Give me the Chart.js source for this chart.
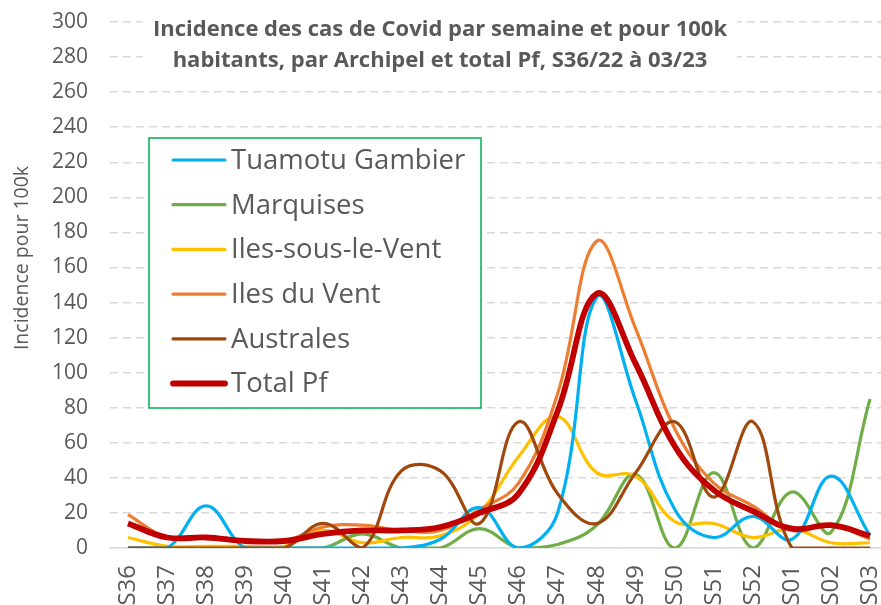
<!DOCTYPE html>
<html>
<head>
<meta charset="utf-8">
<script src="https://cdn.jsdelivr.net/npm/chart.js@4.4.1/dist/chart.umd.min.js"></script>
<style>
  html, body { margin: 0; padding: 0; background: #fff; }
  #wrap { width: 881px; height: 605px; }
</style>
</head>
<body>
<div id="wrap"><canvas id="covidChart" width="881" height="605"></canvas></div>
<script>
// Semaines S36/22 -> S03/23
const weeks = ["S36", "S37", "S38", "S39", "S40", "S41", "S42", "S43", "S44", "S45",
  "S46", "S47", "S48", "S49", "S50", "S51", "S52", "S01", "S02", "S03"];

// Incidence pour 100k
const tuamotu   = [0, 0, 24, 0, 0, 0, 0, 0, 5, 23, 0, 20, 143, 84, 22, 6, 18, 5, 41, 7];
const marquises = [0, 0, 0, 0, 0, 0, 8, 0, 0, 11, 0, 2, 13, 42, 0, 43, 0, 32, 9, 85];
const ilesSLV   = [6, 1, 1, 1, 1, 10, 3, 6, 7, 20, 52, 75, 43, 41, 15, 14, 6, 11, 3, 3];
const ilesDV    = [19, 6, 6, 4, 4, 12, 13, 10, 10, 22, 37, 88, 175, 125, 68, 37, 24, 10, 13, 5];
const australes = [0, 0, 0, 0, 0, 14, 0, 44, 44, 14, 72, 31, 14, 43, 72, 29, 72, 0, 0, 0];
const totalPf   = [14, 6, 6, 4, 4, 8, 10, 10, 12, 20, 31, 78, 145, 105, 58, 33, 21, 11, 13, 7];

const yTicks = [0, 20, 40, 60, 80, 100, 120, 140, 160, 180, 200, 220, 240, 260, 280, 300];

const titleLines = [
  "Incidence des cas de Covid par semaine et pour 100k",
  "habitants, par Archipel et total Pf, S36/22 à 03/23",
];
const yTitle = "Incidence pour 100k";

const FONT = "'Open Sans', 'Noto Sans', sans-serif";
const GREY = "#595959";

function toPoints(values) {
  return values.map((v, i) => ({ x: i, y: v }));
}

function makeDataset(label, values, color, width, order) {
  return {
    label: label,
    data: toPoints(values),
    borderColor: color,
    backgroundColor: color,
    borderWidth: width,
    pointRadius: 0,
    tension: 0.4,
    fill: false,
    order: order,
  };
}

// Titres (graphique + axe Y) dessinés à la main
const titlePlugin = {
  id: "boxTitle",
  afterDraw(chart) {
    const ctx = chart.ctx;
    ctx.save();
    ctx.fillStyle = "#fff";
    ctx.fillRect(143, 8, 594, 68);
    ctx.fillStyle = GREY;
    ctx.font = "bold 22px " + FONT;
    ctx.textAlign = "center";
    ctx.textBaseline = "middle";
    titleLines.forEach((line, i) => {
      ctx.fillText(line, 440, 30 + i * 31);
    });
    // titre de l'axe vertical
    ctx.translate(22, 258);
    ctx.rotate(-Math.PI / 2);
    ctx.font = "19.5px " + FONT;
    ctx.fillText(yTitle, 0, 0);
    ctx.restore();
  },
};

// Légende encadrée en vert à l'intérieur de la zone de tracé
const legendPlugin = {
  id: "boxLegend",
  afterDraw(chart) {
    const ctx = chart.ctx;
    ctx.save();
    ctx.fillStyle = "#fff";
    ctx.fillRect(149, 138, 332, 270);
    ctx.strokeStyle = "#00B050";
    ctx.lineWidth = 1.5;
    ctx.strokeRect(149, 138, 332, 270);
    ctx.font = "27.5px " + FONT;
    ctx.textBaseline = "middle";
    ctx.textAlign = "left";
    chart.data.datasets.forEach((ds, i) => {
      const y = 160 + i * 44.7;
      ctx.strokeStyle = ds.borderColor;
      ctx.lineWidth = ds.borderWidth;
      ctx.lineCap = "round";
      ctx.beginPath();
      ctx.moveTo(173, y);
      ctx.lineTo(225, y);
      ctx.stroke();
      ctx.fillStyle = GREY;
      ctx.fillText(ds.label, 231, y + 1);
    });
    ctx.restore();
  },
};

const ctx = document.getElementById("covidChart").getContext("2d");

new Chart(ctx, {
  type: "line",
  data: {
    datasets: [
      makeDataset("Tuamotu Gambier", tuamotu, "#00B0F0", 3.2, 2),
      makeDataset("Marquises", marquises, "#70AD47", 3.2, 5),
      makeDataset("Iles-sous-le-Vent", ilesSLV, "#FFC000", 3.2, 4),
      makeDataset("Iles du Vent", ilesDV, "#ED7D31", 3.2, 3),
      makeDataset("Australes", australes, "#9E480E", 3.2, 1),
      makeDataset("Total Pf", totalPf, "#C00000", 5.8, 0),
    ],
  },
  options: {
    responsive: false,
    animation: false,
    layout: {
      padding: { top: 22, right: 0, left: 0, bottom: 0 },
    },
    plugins: {
      legend: { display: false },
      title: { display: false },
      tooltip: { enabled: false },
    },
    scales: {
      x: {
        type: "linear",
        min: -0.46,
        max: 19.28,
        afterBuildTicks(scale) {
          scale.ticks = weeks.map((w, i) => ({ value: i }));
        },
        afterFit(scale) {
          scale.height = 57;
          scale.paddingLeft = 0;
          scale.paddingRight = 0;
        },
        grid: { display: false },
        border: { display: true, color: "#d9d9d9", width: 1.5 },
        ticks: {
          autoSkip: false,
          minRotation: 90,
          maxRotation: 90,
          padding: 9,
          color: GREY,
          font: { family: FONT, size: 24 },
          callback: (value) => weeks[value],
        },
      },
      y: {
        min: 0,
        max: 300,
        afterBuildTicks(scale) {
          scale.ticks = yTicks.map((v) => ({ value: v }));
        },
        afterFit(scale) {
          scale.width = 110;
          scale.paddingTop = 0;
          scale.paddingBottom = 0;
        },
        grid: {
          color: "#d9d9d9",
          lineWidth: 1.5,
          drawTicks: false,
        },
        border: { display: false, dash: [8, 5] },
        ticks: {
          padding: 22,
          color: GREY,
          font: { family: FONT, size: 21 },
        },
      },
    },
  },
  plugins: [titlePlugin, legendPlugin],
});
</script>
</body>
</html>
